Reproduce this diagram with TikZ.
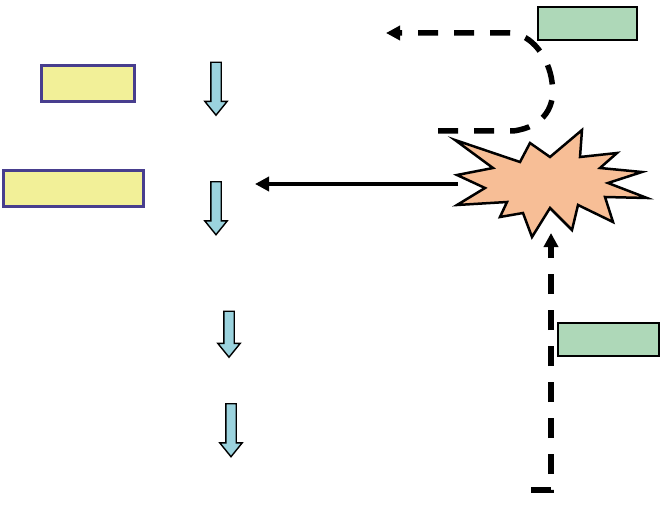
\documentclass[tikz,border=0pt]{standalone}
\usetikzlibrary{arrows.meta,shapes.arrows}
\definecolor{paleyellow}{RGB}{242,240,152}
\definecolor{boxblue}{RGB}{72,62,142}
\definecolor{palegreen}{RGB}{174,216,184}
\definecolor{burstorange}{RGB}{247,190,150}
\definecolor{arrowblue}{RGB}{155,211,222}
\begin{document}
\begin{tikzpicture}[x=1pt, y=-1pt,
            ybox/.style={draw=boxblue, fill=paleyellow, line width=3pt, inner sep=0pt, minimum height=36pt},
            gbox/.style={draw=black, fill=palegreen, line width=2.5pt, inner sep=0pt, minimum height=33pt},
            downarr/.style={single arrow, rotate=-90, draw=black, fill=arrowblue, line width=1.4pt,
                inner xsep=0pt, inner ysep=4.5pt, minimum height=53pt, minimum width=21pt,
                single arrow head extend=6pt, single arrow tip angle=78},
            dashline/.style={line width=5.5pt, dash pattern=on 20pt off 16pt, -{Triangle[length=14pt,width=14pt]}},
            solidline/.style={line width=4.5pt, -{Triangle[length=14pt,width=14pt]}}]
            \useasboundingbox (0,0) rectangle (661,505);

            \node[ybox, minimum width=93pt] (step1) at (87.5,84) {};
            \node[ybox, minimum width=140pt] (step2) at (73,189) {};
            \node[gbox, minimum width=99pt] (topgreen) at (587.5,23.5) {};
            \node[gbox, minimum width=101pt] (lowgreen) at (608.5,339.5) {};

            \node[downarr] (arrA) at (216,85.5) {};
            \node[downarr] (arrB) at (216,205) {};
            \node[downarr, minimum height=46pt] (arrC) at (229,331) {};
            \node[downarr] (arrD) at (231,427) {};

            \draw[line width=2.5pt, fill=burstorange, line join=miter]
                (455,140) -- (520,162) -- (530,143) -- (550,157) -- (582,130) -- (580,157)
                -- (617,153) -- (600,168) -- (642,172) -- (608,183) -- (647,198) -- (605,197)
                -- (613,222) -- (578,205) -- (572,230) -- (550,208) -- (532,237) -- (523,213)
                -- (500,217) -- (507,202) -- (457,205) -- (485,188) -- (457,175) -- (493,168) -- cycle;
            \coordinate (burstleft) at (458,184);
            \coordinate (burstbottom) at (551,233);
            \coordinate (solidtip) at (255,184);
            \coordinate (loopstart) at (438,131);
            \coordinate (loopend) at (386,33);
            \coordinate (feedstart) at (531,490);

            \draw[solidline] (burstleft) -- (solidtip);
            \draw[dashline] (loopstart) -- (513,131) .. controls (545,127) and (556,105) .. (552,82)
                .. controls (549,58) and (532,34) .. (510,33) -- (loopend);
            \draw[dashline] (feedstart) -- (551,490) -- (burstbottom);
        \end{tikzpicture}
\end{document}
